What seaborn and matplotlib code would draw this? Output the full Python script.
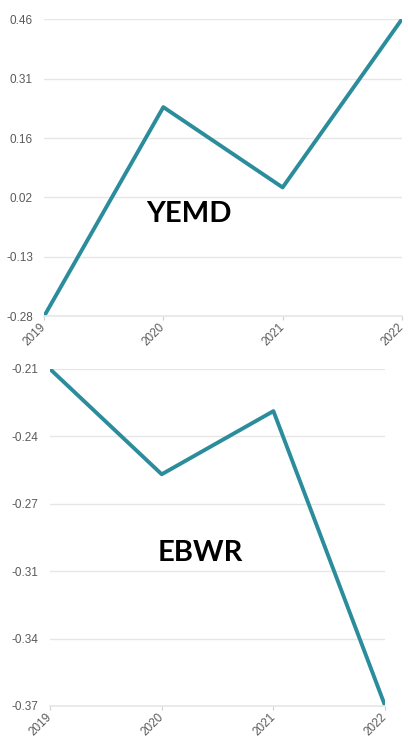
"""
Dois painéis de linha (YEMD e EBWR) por ano.
"""

import numpy as np
import pandas as pd
import matplotlib
matplotlib.use('Agg')
import matplotlib.pyplot as plt
import seaborn as sns

# Dados
anos = ['2019', '2020', '2021', '2022']
valores_yemd = [-0.28, 0.241, 0.041, 0.46]
valores_ebwr = [-0.21, -0.260, -0.230, -0.37]

ticks_yemd = [-0.28, -0.13, 0.02, 0.16, 0.31, 0.46]
ticks_ebwr = [-0.37, -0.34, -0.31, -0.27, -0.24, -0.21]

COR_LINHA = '#2b8c9b'
COR_GRADE = '#e6e6e6'
COR_TEXTO = '#5a5a5a'

sns.set_style('white')
plt.rcParams['font.family'] = ['Liberation Sans', 'DejaVu Sans']


def desenhar_painel(ax, valores, ticks, rotulo, pos_rotulo):
    df = pd.DataFrame({'ano': np.arange(len(anos)), 'valor': valores})
    sns.lineplot(data=df, x='ano', y='valor', ax=ax, color=COR_LINHA,
                 linewidth=2.8, solid_capstyle='butt')

    # escala com 6 ticks igualmente espaçados
    lo, hi = min(ticks), max(ticks)
    posicoes = np.linspace(lo, hi, 6)
    ax.set_ylim(lo, hi)
    ax.set_yticks(posicoes)
    ax.set_yticklabels([f'{t:.2f}' for t in ticks])
    ax.set_xlim(0, len(anos) - 1)
    ax.set_xticks(np.arange(len(anos)))
    ax.set_xticklabels(anos, rotation=45, ha='right', va='center',
                       rotation_mode='anchor')

    ax.yaxis.grid(True, color=COR_GRADE, linewidth=1)
    ax.set_axisbelow(True)
    for lado in ['top', 'right', 'left']:
        ax.spines[lado].set_visible(False)
    ax.spines['bottom'].set_color(COR_GRADE)
    ax.spines['bottom'].set_linewidth(1.2)

    ax.tick_params(axis='y', length=0, labelsize=8.5, labelcolor=COR_TEXTO, pad=8)
    ax.tick_params(axis='x', length=3, color='#d0d0d0', labelsize=8.5,
                   labelcolor=COR_TEXTO, pad=3.5, bottom=True)
    ax.set_xlabel('')
    ax.set_ylabel('')

    ax.text(pos_rotulo[0], pos_rotulo[1], rotulo, transform=ax.transAxes,
            ha='center', va='center', fontsize=21, fontweight='bold',
            family=['Lato', 'DejaVu Sans'], color='black')


fig = plt.figure(figsize=(4.08, 7.39), dpi=100)
ax1 = fig.add_axes([0.108, 0.572, 0.877, 0.402])
ax2 = fig.add_axes([0.1225, 0.0447, 0.8215, 0.456])

desenhar_painel(ax1, valores_yemd, ticks_yemd, 'YEMD', (0.405, 0.343))
desenhar_painel(ax2, valores_ebwr, ticks_ebwr, 'EBWR', (0.448, 0.454))

fig.savefig('out.png', dpi=100)
plt.close(fig)
